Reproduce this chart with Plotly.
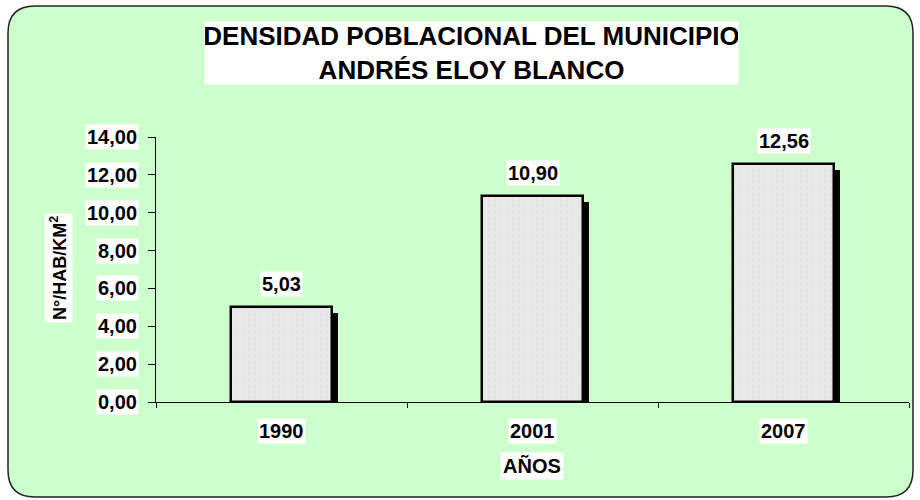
import plotly.graph_objects as go

years = ["1990", "2001", "2007"]
density = [5.03, 10.90, 12.56]
value_labels = ["5,03", "10,90", "12,56"]
y_ticks = [0, 2, 4, 6, 8, 10, 12, 14]
y_tick_labels = ["0,00", "2,00", "4,00", "6,00", "8,00", "10,00", "12,00", "14,00"]

W, H = 920, 500
L, R, T, B = 156, 11, 137, 98
PW, PH = W - L - R, H - T - B
FONT = "Liberation Sans, Arial, sans-serif"

def px(x):
    return (x - L) / PW

def py(y):
    return (H - B - y) / PH

def f(size, family=FONT):
    return dict(family=family, size=size, color="black", weight="bold")

fig = go.Figure()

# shadow bars (offset slightly right and down)
shadow_dy = 6 / PH * 14
fig.add_trace(go.Bar(
    x=years, y=[v - shadow_dy for v in density],
    width=0.405, offset=-0.2025 + 0.022,
    marker=dict(color="black", line=dict(width=0)),
    hoverinfo="skip", showlegend=False,
))
fig.add_trace(go.Bar(
    x=years, y=density,
    width=0.405, offset=-0.2025,
    marker=dict(color="#E6E6E6", line=dict(color="black", width=2.5),
                pattern=dict(shape=".", fgcolor="#DADADA", bgcolor="#E8E8E8",
                             size=6, solidity=0.15)),
    showlegend=False,
))

# rounded background frame
l, r, t, b, rad = 8, 913, 6, 497, 27
path = (
    f"M {px(l+rad)},{py(t)} L {px(r-rad)},{py(t)} "
    f"Q {px(r)},{py(t)} {px(r)},{py(t+rad)} "
    f"L {px(r)},{py(b-rad)} Q {px(r)},{py(b)} {px(r-rad)},{py(b)} "
    f"L {px(l+rad)},{py(b)} Q {px(l)},{py(b)} {px(l)},{py(b-rad)} "
    f"L {px(l)},{py(t+rad)} Q {px(l)},{py(t)} {px(l+rad)},{py(t)} Z"
)
fig.add_shape(type="path", path=path, xref="paper", yref="paper",
              fillcolor="#CCFFCC", line=dict(color="#222222", width=1.5),
              layer="below")

ann = []
# y tick labels
for v, lab in zip(y_ticks, y_tick_labels):
    ann.append(dict(x=0, xref="paper", y=v, yref="y", text=lab,
                    xanchor="right", yanchor="middle", xshift=-17,
                    showarrow=False, bgcolor="white", borderpad=1, font=f(20)))
# x tick labels (category index positions)
for i, c in enumerate(years):
    ann.append(dict(x=i, xref="x", y=0, yref="y", text=c,
                    xanchor="center", yanchor="middle", yshift=-29,
                    showarrow=False, bgcolor="white", borderpad=1, font=f(20)))
# value labels
for i, (v, lab) in enumerate(zip(density, value_labels)):
    ann.append(dict(x=i, xref="x", y=v, yref="y", text=lab,
                    xanchor="center", yanchor="middle", yshift=23,
                    showarrow=False, bgcolor="white", borderpad=1, font=f(20)))
# title
ann.append(dict(x=px(471.5), xref="paper", y=py(53.5), yref="paper",
                text="DENSIDAD POBLACIONAL DEL MUNICIPIO<br>ANDRÉS ELOY BLANCO",
                xanchor="center", yanchor="middle", showarrow=False,
                bgcolor="white", width=533, height=62, borderpad=0, font=f(26)))
# y axis title
ann.append(dict(x=px(58), xref="paper", y=py(268), yref="paper",
                text="N°/HAB/KM<sup>2</sup>", textangle=-90,
                xanchor="center", yanchor="middle", showarrow=False,
                bgcolor="white", borderpad=2,
                font=f(18, "Liberation Sans Narrow, Liberation Sans, Arial, sans-serif")))
# x axis title
ann.append(dict(x=px(532), xref="paper", y=py(466), yref="paper",
                text="AÑOS", xanchor="center", yanchor="middle",
                showarrow=False, bgcolor="white", borderpad=2, font=f(20)))

fig.update_layout(
    width=W, height=H,
    margin=dict(l=L, r=R, t=T, b=B, pad=0),
    paper_bgcolor="white", plot_bgcolor="rgba(0,0,0,0)",
    barmode="overlay", bargap=0,
    annotations=ann,
    xaxis=dict(type="category", showline=True, linecolor="black", linewidth=1,
               ticks="outside", ticklen=5, tickcolor="black", tickson="boundaries",
               showticklabels=False, showgrid=False, zeroline=False,
               range=[-0.5, 2.5]),
    yaxis=dict(range=[0, 14], tickvals=y_ticks, showline=True, linecolor="black",
               linewidth=1, ticks="outside", ticklen=7, tickcolor="black",
               showticklabels=False, showgrid=False, zeroline=False),
)

fig.write_html("out.html", config={"displayModeBar": False},
               post_script="document.body.style.margin='0';document.body.style.overflow='hidden';")
